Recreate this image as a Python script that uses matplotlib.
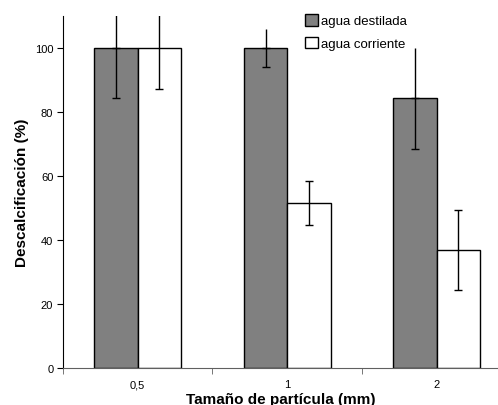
import numpy as np
from matplotlib import pyplot as plt

plt.rcParams['font.family'] = ['Liberation Sans', 'DejaVu Sans']

tamanos = ['0,5', '1', '2']
destilada = [100, 100, 84.3]
destilada_err = [15.7, 6.0, 15.8]
corriente = [100, 51.6, 36.9]
corriente_err = [12.8, 6.9, 12.5]

x = np.arange(len(tamanos))
ancho = 0.29

fig = plt.figure(figsize=(4.98, 4.06), dpi=100)
ax = fig.add_axes([0.1265, 0.0911, 0.8735, 0.867])

ax.bar(x - ancho / 2, destilada, ancho, color='#808080', edgecolor='black',
       linewidth=1, label='agua destilada', zorder=2)
ax.bar(x + ancho / 2, corriente, ancho, color='white', edgecolor='black',
       linewidth=1, label='agua corriente', zorder=2)

# barras oscuras: cap solo abajo
ax.errorbar(x - ancho / 2, destilada, yerr=[destilada_err, [0] * 3], fmt='none',
            ecolor='black', elinewidth=1, capsize=3, zorder=3)
ax.errorbar(x - ancho / 2, destilada, yerr=[[0] * 3, destilada_err], fmt='none',
            ecolor='black', elinewidth=1, capsize=0, zorder=3)
ax.errorbar(x + ancho / 2, corriente, yerr=corriente_err, fmt='none',
            ecolor='black', elinewidth=1, capsize=3, zorder=3)

ax.set_xlim(-0.5, 2.41)
ax.set_ylim(0, 110)
ax.set_yticks([0, 20, 40, 60, 80, 100])
ax.set_xticks(x)
ax.set_xticklabels(tamanos)
ax.set_xticks([-0.5, 0.5, 1.5], minor=True)
ax.tick_params(axis='x', which='major', length=0, labelsize=8, pad=8)
ax.tick_params(axis='x', which='minor', length=4, direction='out', color='#606060')
ax.tick_params(axis='y', length=4, direction='out', labelsize=8, pad=3)

for s in ['top', 'right']:
    ax.spines[s].set_visible(False)
ax.spines['bottom'].set_color('#606060')
ax.spines['left'].set_color('black')

ax.set_xlabel('Tamaño de partícula (mm)', fontsize=11, fontweight='bold', labelpad=2)
ax.set_ylabel('Descalcificación (%)', fontsize=11, fontweight='bold', labelpad=4)

ax.legend(loc='upper left', bbox_to_anchor=(0.613, 0.963),
          bbox_transform=fig.transFigure, frameon=False, fontsize=9.5,
          handlelength=1.0, handleheight=1.0, handletextpad=0.2,
          labelspacing=0.7, borderpad=0, borderaxespad=0)

fig.savefig('out.png', dpi=100)
